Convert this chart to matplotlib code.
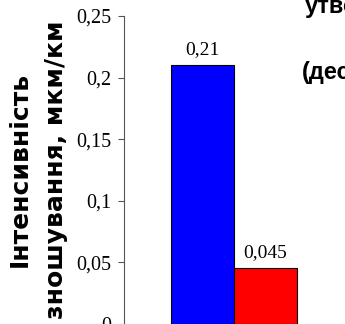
import matplotlib
matplotlib.use("Agg")
import matplotlib.pyplot as plt

# Wear intensity for the two variants
variants = ["Варіант 1", "Варіант 2"]
wear = [0.21, 0.045]
wear_labels = ["0,21", "0,045"]
bar_colors = ["#0000FF", "#FF0000"]
y_ticks = [0, 0.05, 0.1, 0.15, 0.2, 0.25]
y_tick_labels = ["0", "0,05", "0,1", "0,15", "0,2", "0,25"]

W, H = 345, 324
fig = plt.figure(figsize=(W / 100, H / 100), dpi=100)

# axes spans past the right edge of the figure
ax_left, ax_bottom, ax_top = 124, 0.2, 16
ax = fig.add_axes([ax_left / W, ax_bottom / H, (W - ax_left) / W, (H - ax_top - ax_bottom) / H])

px_per_unit = 63.0
xpos = [0, 1]
ax.bar(xpos, wear, width=1.0, color=bar_colors, edgecolor="black", linewidth=0.8)
x_left = -0.5 - (171 - ax_left) / px_per_unit
ax.set_xlim(x_left, x_left + (W - ax_left) / px_per_unit)
ax.set_ylim(0, 0.25)

serif = ["Liberation Serif", "DejaVu Serif"]
for x, v, lab in zip(xpos, wear, wear_labels):
    ax.annotate(lab, (x, v), xytext=(0, 8), textcoords="offset points",
                ha="center", va="baseline", fontsize=14, family=serif)

ax.set_yticks(y_ticks)
ax.set_yticklabels(y_tick_labels, family=serif, fontsize=14.5)
ax.tick_params(axis="y", direction="out", length=4.3, width=0.8, color="#555555", pad=5.0)
ax.set_xticks([])
for s in ["top", "right", "bottom"]:
    ax.spines[s].set_visible(False)
ax.spines["left"].set_color("#555555")
ax.spines["left"].set_linewidth(0.8)

label_font = dict(family=["DejaVu Sans"], fontweight="bold", fontsize=18)
fig.text(27 / W, 1 - 169 / H, "Інтенсивність", rotation=90, rotation_mode="anchor",
         ha="center", va="baseline", **label_font)
fig.text(63 / W, 1 - 170 / H, "зношування, мкм/км", rotation=90, rotation_mode="anchor",
         ha="center", va="baseline", **label_font)

title_font = dict(family=["Liberation Sans", "DejaVu Sans"], fontweight="bold", fontsize=17)
fig.text(305 / W, 1 - 13 / H, "утворення", ha="left", va="baseline", **title_font)
fig.text(302 / W, 1 - 79 / H, "(десорбція)", ha="left", va="baseline", **title_font)

fig.savefig("out.png", dpi=100)
